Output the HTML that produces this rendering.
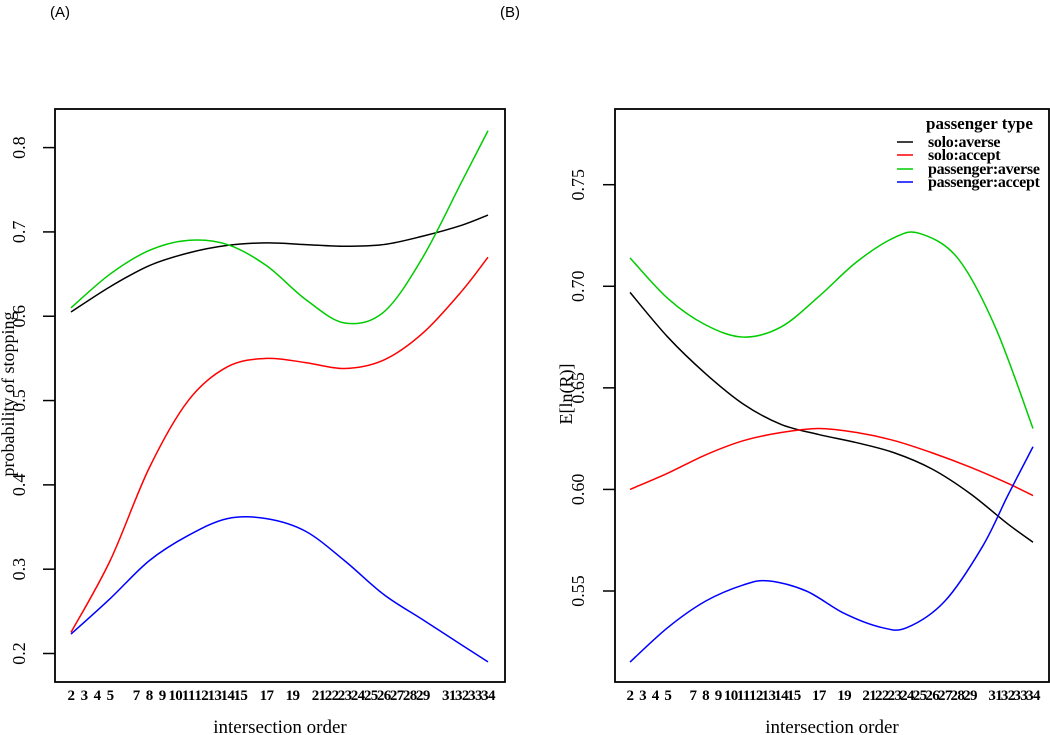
<!DOCTYPE html>
<html><head><meta charset="utf-8"><style>
html,body{margin:0;padding:0;background:#fff;}
svg{display:block;}
text{font-family:"Liberation Serif",serif;fill:#000;}
</style></head><body>
<svg id="chart" width="1050" height="735" viewBox="0 0 1050 735" xmlns="http://www.w3.org/2000/svg">
<text x="50" y="17" style="font-family:'Liberation Sans',sans-serif;font-size:15px">(A)</text>
<text x="500" y="17" style="font-family:'Liberation Sans',sans-serif;font-size:15px">(B)</text>
</svg>
<script>
// x tick labels (shared)
const xTicks = [2,3,4,5,7,8,9,10,11,12,13,14,15,17,19,21,22,23,24,25,26,27,28,29,31,32,33,34];
// Panel A data
const aYTicks = [0.2,0.3,0.4,0.5,0.6,0.7,0.8];
const aX = [2,5,8,11,14,17,20,23,26,29,32,34];
const aSoloAverse = [0.605,0.635,0.66,0.675,0.684,0.687,0.685,0.683,0.685,0.695,0.708,0.72];
const aSoloAccept = [0.225,0.31,0.42,0.50,0.54,0.55,0.545,0.538,0.548,0.58,0.63,0.67];
const aPassAverse = [0.61,0.65,0.678,0.69,0.685,0.66,0.62,0.592,0.605,0.67,0.76,0.82];
const aPassAccept = [0.223,0.265,0.31,0.34,0.36,0.36,0.345,0.31,0.27,0.24,0.21,0.19];
// Panel B data
const bYTicks = [0.55,0.60,0.65,0.70,0.75];
const bYTickLabels = ["0.55","0.60","0.65","0.70","0.75"];
const bXGreen = [2,5,8,11,14,17,20,23,25,28,31,34];
const bPassAverse = [0.714,0.694,0.681,0.675,0.68,0.695,0.712,0.724,0.726,0.714,0.68,0.63];
const bX = [2,5,8,11,14,17,20,23,26,29,32,34];
const bSoloAverse = [0.697,0.675,0.657,0.642,0.632,0.627,0.623,0.618,0.61,0.598,0.583,0.574];
const bSoloAccept = [0.6,0.608,0.617,0.624,0.628,0.63,0.628,0.624,0.618,0.611,0.603,0.597];
const bXBlue = [2,5,8,11,13,16,19,22,24,27,30,32,34];
const bPassAccept = [0.515,0.532,0.545,0.553,0.555,0.55,0.539,0.532,0.532,0.545,0.572,0.597,0.621];
const legendLabels = ["solo:averse","solo:accept","passenger:averse","passenger:accept"];
const colors = ["#000","#f00","#0c0","#00f"];

const NS="http://www.w3.org/2000/svg";
const svg=document.getElementById('chart');
function mk(tag,attrs,parent){const e=document.createElementNS(NS,tag);for(const k in attrs)e.setAttribute(k,attrs[k]);(parent||svg).appendChild(e);return e;}
function smooth(pts){let d=`M${pts[0][0]},${pts[0][1]}`;for(let i=0;i<pts.length-1;i++){const p0=pts[Math.max(0,i-1)],p1=pts[i],p2=pts[i+1],p3=pts[Math.min(pts.length-1,i+2)];
d+=` C${p1[0]+(p2[0]-p0[0])/6},${p1[1]+(p2[1]-p0[1])/6} ${p2[0]-(p3[0]-p1[0])/6},${p2[1]-(p3[1]-p1[1])/6} ${p2[0]},${p2[1]}`;}return d;}

function panel(cfg){
  const g=mk('g',{});
  
  
  const xs=v=>cfg.x0+(v-2)*(cfg.x1-cfg.x0)/32;
  const ys=v=>cfg.yA+(v-cfg.vA)*(cfg.yB-cfg.yA)/(cfg.vB-cfg.vA);
  const fr=mk('rect',{x:cfg.L,y:109,width:cfg.R-cfg.L,height:573,fill:'none',stroke:'#000','stroke-width':1.8},g);
  
  
  cfg.yTicks.forEach((v,i)=>{
    const y=ys(v);
    const tk=mk('line',{x1:cfg.L-12,x2:cfg.L,y1:y,y2:y,stroke:'#000','stroke-width':1.5},g);
    
    
    const t=mk('text',{x:cfg.ylx,y:y,'font-size':18,'text-anchor':'middle',transform:`rotate(-90 ${cfg.ylx} ${y})`},g);
    t.textContent=cfg.yLabels?cfg.yLabels[i]:String(v);
    
    
  });
  xTicks.forEach(v=>{
    const t=mk('text',{x:xs(v),y:700,'font-size':15,'font-weight':'bold','text-anchor':'middle','letter-spacing':'-0.6'},g);
    t.textContent=v;
    
    
  });
  const xt=mk('text',{x:(cfg.L+cfg.R)/2,y:733,'font-size':19,'text-anchor':'middle'},g);
  xt.textContent='intersection order';
  
  
  const yt=mk('text',{x:cfg.ytx,y:394,'font-size':18,'text-anchor':'middle',transform:`rotate(-90 ${cfg.ytx} 394)`},g);
  yt.textContent=cfg.ytitle;
  
  
  cfg.series.forEach((s,i)=>{
    const p=mk('path',{d:smooth(s.x.map((xv,j)=>[xs(xv),ys(s.y[j])])),fill:'none',stroke:colors[i],'stroke-width':1.5},g);
    
    
  });
}
panel({name:'panel-a',L:55,R:505,x0:71,x1:488,yA:653.5,vA:0.2,yB:147.6,vB:0.8,yTicks:aYTicks,ylx:25,ytx:14,ytitle:'probability of stopping',
 series:[{x:aX,y:aSoloAverse},{x:aX,y:aSoloAccept},{x:aX,y:aPassAverse},{x:aX,y:aPassAccept}]});
panel({name:'panel-b',L:615,R:1049,x0:630,x1:1033,yA:591,vA:0.55,yB:184.7,vB:0.75,yTicks:bYTicks,yLabels:bYTickLabels,ylx:584,ytx:572,ytitle:'E[ln(R)]',
 series:[{x:bX,y:bSoloAverse},{x:bX,y:bSoloAccept},{x:bXGreen,y:bPassAverse},{x:bXBlue,y:bPassAccept}]});

const lg=mk('g',{});


const lt=mk('text',{x:926,y:129,'font-size':17,'font-weight':'bold'},lg);
lt.textContent='passenger type';


const legY=[142,155,169,182];
legendLabels.forEach((lab,i)=>{
  const y=legY[i];
  const ln=mk('line',{x1:897,x2:913,y1:y,y2:y,stroke:colors[i],'stroke-width':1.5},lg);
  
  
  const t=mk('text',{x:928,y:y+5,'font-size':16,'font-weight':'bold','letter-spacing':'-0.3'},lg);
  t.textContent=lab;
  
  
});
</script>
</body></html>
